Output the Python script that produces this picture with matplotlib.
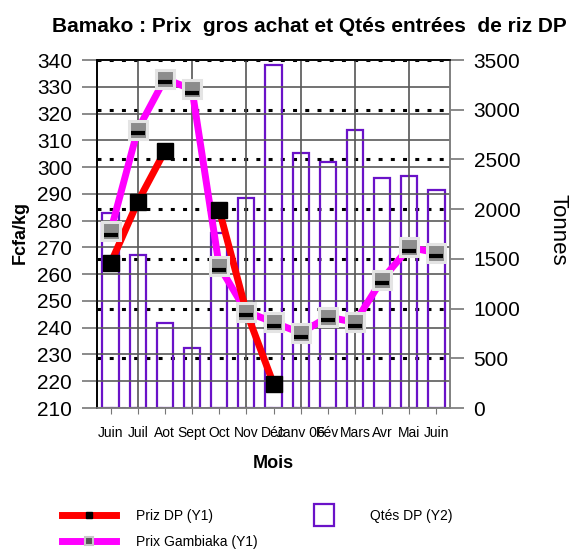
import numpy as np
import matplotlib
matplotlib.use("Agg")
import matplotlib.pyplot as plt
from matplotlib.patches import Rectangle
from matplotlib.legend_handler import HandlerPatch
from matplotlib.lines import Line2D

plt.rcParams['font.family'] = ['Liberation Sans', 'DejaVu Sans']

mois = ["Juin", "Juil", "Aot", "Sept", "Oct", "Nov", "Déc", "Janv 06",
        "Fév", "Mars", "Avr", "Mai", "Juin"]
prix_dp = [264, 287, 306, np.nan, 284, 246, 219, np.nan, np.nan, np.nan,
           np.nan, np.nan, np.nan]
prix_gambiaka = [276, 314, 333, 329, 263, 246, 242, 238, 244, 242, 258, 270, 268]
qtes_dp = [1965, 1540, 850, 600, 1760, 2115, 3450, 2560, 2470, 2800, 2310, 2330, 2190]

purple = "#6A12C8"
x = np.arange(len(mois))

fig = plt.figure(figsize=(5.73, 5.52), dpi=100)
ax = fig.add_axes([97 / 573, 1 - 408 / 552, 353 / 573, 348 / 552])
ax2 = ax.twinx()
ax.set_zorder(ax2.get_zorder() + 1)
ax.patch.set_visible(False)

# bars on the right axis (tonnes)
ax2.bar(x, qtes_dp, width=0.6, facecolor='none', edgecolor=purple, linewidth=1.6, zorder=3)
ax2.set_ylim(0, 3500)
ax2.set_yticks(np.arange(0, 3501, 500))
ax2.yaxis.grid(True, color='black', linestyle=(0, (1.3, 2.7)), linewidth=2.2)
ax2.set_axisbelow(True)

# price lines on the left axis
ax.plot(x, prix_gambiaka, color='#FF00FF', linewidth=5, zorder=3, solid_capstyle='butt')
ax.plot(x, prix_dp, color='#FF0000', linewidth=5, zorder=4, solid_capstyle='butt')
ax.plot(x, prix_dp, linestyle='none', marker='s', markersize=11, color='black', zorder=5)
ax.plot(x, prix_gambiaka, linestyle='none', marker='s', markersize=12.5,
        markerfacecolor='#8c8c8c', markeredgecolor='#E4E4E4', markeredgewidth=2.2, zorder=6)
# dark band at the bottom of the grey markers
ax.plot(x, np.array(prix_gambiaka) - 1.3, linestyle='none', marker='_', markersize=10,
        markeredgecolor='black', markeredgewidth=3, zorder=7)

ax.set_ylim(210, 340)
ax.set_yticks(np.arange(210, 341, 10))
ax.set_xlim(-0.5, 12.5)
ax.set_xticks(x)
ax.set_xticklabels(mois, fontsize=10)
ax.yaxis.grid(True, color='#5a5a5a', linewidth=1.2)
for i in range(1, 13, 2):
    ax.axvline(x[i], color='#555555', linewidth=1.2, zorder=1)

ax.tick_params(axis='y', labelsize=15, length=11, width=1.2, color='#777777', pad=7)
ax.tick_params(axis='x', length=4, color='#777777', pad=9)
ax2.tick_params(axis='y', labelsize=15, length=10, width=1.2, color='#777777', pad=7)

for a in (ax, ax2):
    a.spines['left'].set_color('black')
    a.spines['top'].set_color('black')
    a.spines['right'].set_color('#808080')
    a.spines['bottom'].set_color('#808080')
    for s in a.spines.values():
        s.set_linewidth(1.2)

fig.text(309 / 573, 1 - 26 / 552, "Bamako : Prix  gros achat et Qtés entrées  de riz DP",
         ha='center', va='center', fontsize=15, fontweight='bold')
fig.text(20 / 573, 1 - 232 / 552, "Fcfa/kg", rotation=90, ha='center', va='center',
         fontsize=13, fontweight='bold')
fig.text(558 / 573, 1 - 230 / 552, "Tonnes", rotation=-90, ha='center', va='center', fontsize=16)
fig.text(273 / 573, 1 - 463 / 552, "Mois", ha='center', va='center', fontsize=13, fontweight='bold')


def square_patch(legend, orig_handle, xdescent, ydescent, width, height, fontsize):
    xc = width / 2 - xdescent
    yc = height / 2 - ydescent
    return Rectangle((xc - 7, yc - 8), 14, 16)


h_dp = Line2D([], [], color='#FF0000', linewidth=5, marker='s', markersize=5,
              markerfacecolor='black', markeredgecolor='black')
h_gb = Line2D([], [], color='#FF00FF', linewidth=5, marker='s', markersize=6,
              markerfacecolor='#555555', markeredgecolor='#C8C8C8', markeredgewidth=1.5)
h_q = Rectangle((0, 0), 1, 1, facecolor='none', edgecolor=purple, linewidth=1.6)
fig.legend([h_dp, h_gb, h_q], ["Priz DP (Y1)", "Prix Gambiaka (Y1)", "Qtés DP (Y2)"],
           loc='upper left', bbox_to_anchor=(62 / 573, 1 - 509 / 552), ncol=2,
           frameon=False, fontsize=10, borderpad=0, borderaxespad=0,
           handlelength=3.9, handletextpad=1.4, labelspacing=0.85, columnspacing=2.85,
           handler_map={Rectangle: HandlerPatch(patch_func=square_patch)})

fig.savefig("out.png", dpi=100)
